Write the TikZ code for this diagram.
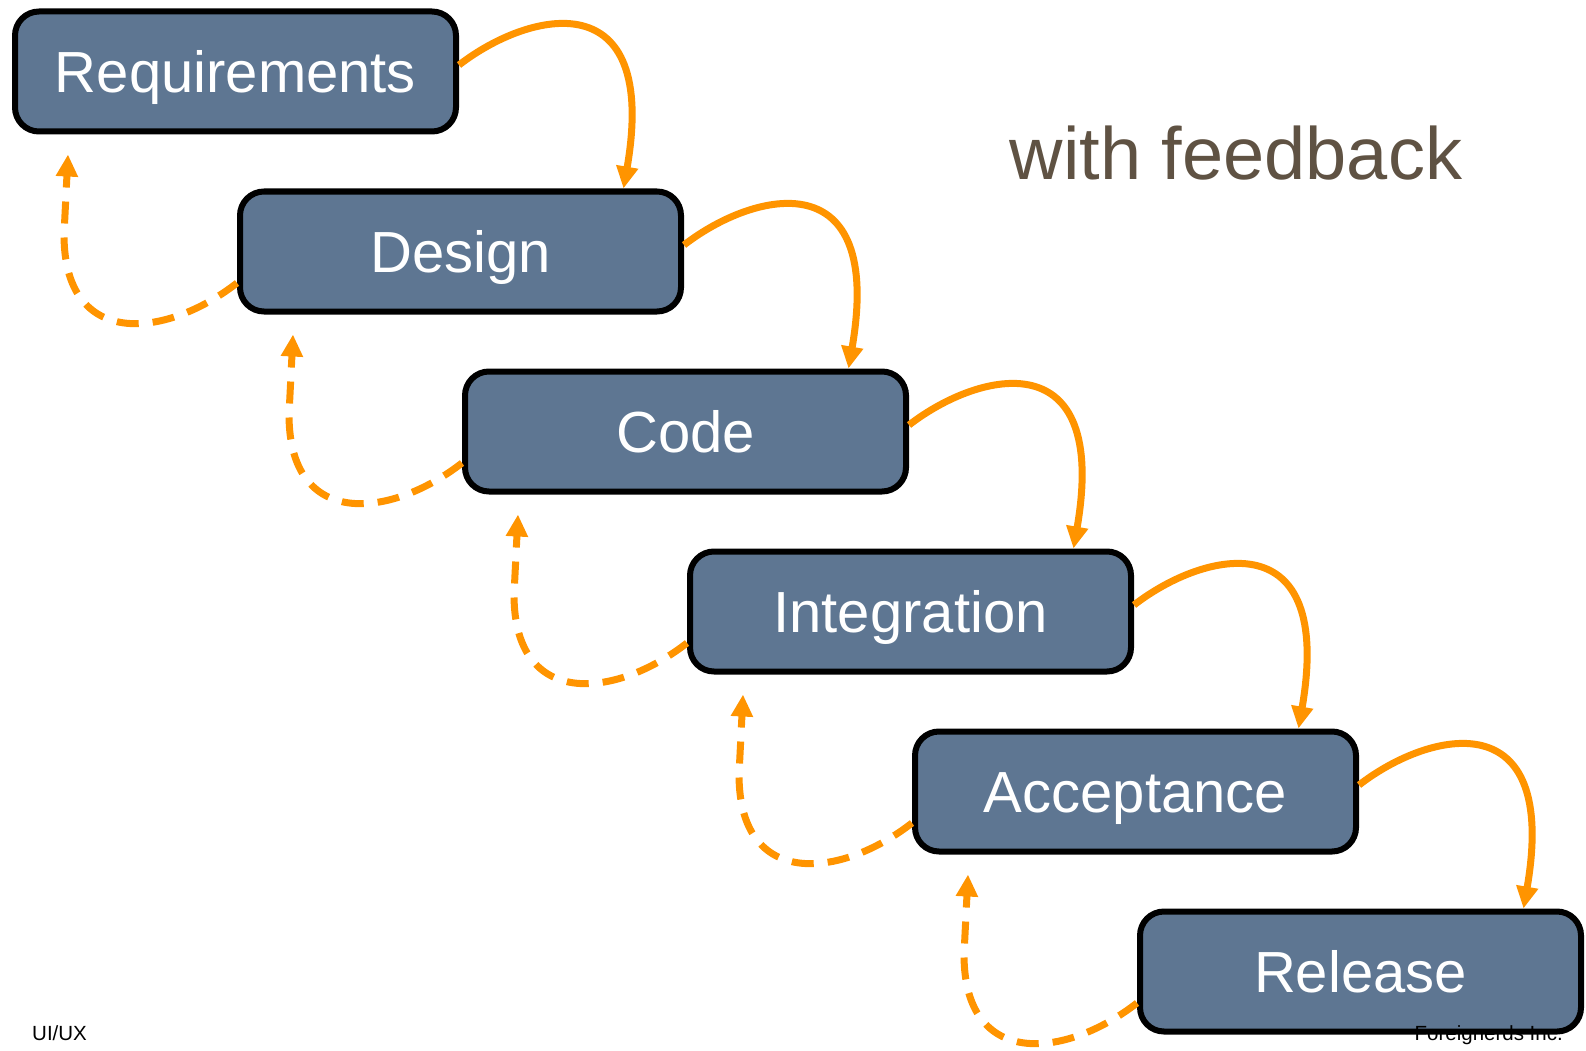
\documentclass[tikz,border=0pt]{standalone}
\usepackage{fontspec}
\setmainfont{Liberation Sans}
\usetikzlibrary{arrows.meta,calc}
\definecolor{slate}{RGB}{94,118,146}
\definecolor{flow}{RGB}{255,148,0}
\definecolor{titlebrown}{RGB}{95,82,67}

\begin{document}
\begin{tikzpicture}[x=1pt,y=-1pt,
  stage/.style={draw=black, line width=6pt, fill=slate, rounded corners=24pt,
    minimum width=441pt, minimum height=120pt, inner sep=0pt, text=white,
    font=\fontsize{58}{60}\selectfont, text height=42pt, text depth=0pt},
  fwd/.style={draw=flow, line width=7pt, -{Triangle[length=22pt,width=21pt]}},
  back/.style={draw=flow, line width=7pt, dash pattern=on 22pt off 14pt,
    -{Triangle[length=22pt,width=21pt]}},
  footer/.style={inner sep=0pt, font=\fontsize{20.5}{22}\selectfont, text=black},
]
\useasboundingbox (0,0) rectangle (1586,1051);

% the six waterfall stages
\node[stage] (req) at (235.5,71.5)  {Requirements};
\node[stage] (des) at (460.5,251.5) {Design};
\node[stage] (cod) at (685.5,431.5) {Code};
\node[stage] (int) at (910.5,611.5) {Integration};
\node[stage] (acc) at (1135.5,791.5) {Acceptance};
\node[stage] (rel) at (1360.5,971.5) {Release};

% forward hand-offs and dashed feedback loops
\foreach \a/\b in {req/des,des/cod,cod/int,int/acc,acc/rel}{
  \draw[fwd] ($(\a.east)+(0,-6.5)$) .. controls +(71,-55) and +(36,-208) .. ($(\b.north)+(163,0)$);
  \draw[back] ($(\b.west)+(0,31.5)$) .. controls +(-72,56) and +(0,115) .. ($(\a.south west)+(52,100)$) -- ($(\a.south west)+(56,20)$);
}

\node[anchor=base, inner sep=0pt, font=\fontsize{74}{80}\selectfont, text=titlebrown] (tag) at (1236,179) {with feedback};

\node[footer, anchor=base west] (course) at (32,1040) {UI/UX};
\node[footer, anchor=base east] (org) at (1563,1040) {Foreignerds Inc.};
\end{tikzpicture}
\end{document}
